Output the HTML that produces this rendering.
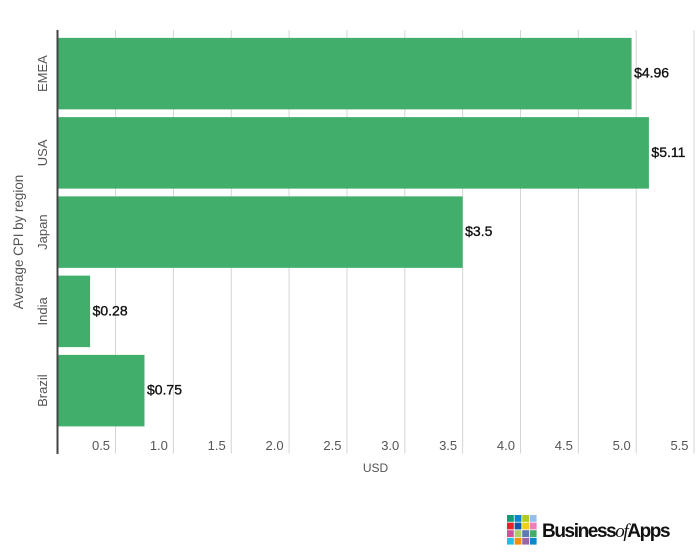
<!DOCTYPE html>
<html>
<head>
<meta charset="utf-8">
<style>
html,body{margin:0;padding:0;background:#fff;width:700px;height:560px;overflow:hidden}
svg{display:block}
text{font-family:"Liberation Sans",sans-serif}
</style>
</head>
<body>
<svg id="chart" width="700" height="560" viewBox="0 0 700 560" xmlns="http://www.w3.org/2000/svg">
  <g id="grid"></g>
  <g id="bars"></g>
  <rect x="56.5" y="30" width="2" height="424" fill="#444"></rect>
  <g id="labels"></g>
  <text x="375.5" y="472" font-size="12" fill="#555" text-anchor="middle">USD</text>
  <text transform="translate(23,242) rotate(-90)" font-size="13.4" fill="#555" text-anchor="middle">Average CPI by region</text>
  <g id="logo"></g>
  <text x="542" y="537" font-size="19" font-weight="bold" fill="#111" letter-spacing="-1.4">Business<tspan font-weight="normal" font-style="italic" font-family="Liberation Serif">of</tspan>Apps</text>
</svg>
<script>
var categories = ['EMEA', 'USA', 'Japan', 'India', 'Brazil'];
var seriesValues = [4.96, 5.11, 3.5, 0.28, 0.75];
var valueLabels = ['$4.96', '$5.11', '$3.5', '$0.28', '$0.75'];
var xTicks = [0.5, 1.0, 1.5, 2.0, 2.5, 3.0, 3.5, 4.0, 4.5, 5.0, 5.5];

var NS = 'http://www.w3.org/2000/svg';
function xScale(v) { return 57.7 + v * 115.7; }
var bandTop = 34;
var bandStep = 79.25;
var barHeight = 71.5;
function bandY(i) { return bandTop + i * bandStep + (bandStep - barHeight) / 2; }

function make(tag, attrs, text) {
  var el = document.createElementNS(NS, tag);
  for (var k in attrs) el.setAttribute(k, attrs[k]);
  if (text !== undefined) el.textContent = text;
  return el;
}

var gridG = document.getElementById('grid');
var barsG = document.getElementById('bars');
var labelsG = document.getElementById('labels');

xTicks.forEach(function (t) {
  var x = xScale(t);
  var line = make('line', {x1: x, x2: x, y1: 30, y2: 453.5, stroke: '#d4d4d4', 'stroke-width': 1});
  
  
  gridG.appendChild(line);
  var label = make('text', {x: x - 5.5, y: 450, 'font-size': 13, fill: '#555', 'text-anchor': 'end'}, t.toFixed(1));
  
  
  labelsG.appendChild(label);
});

categories.forEach(function (c, i) {
  var y = bandY(i);
  var x1 = xScale(seriesValues[i]);
  var bar = make('rect', {x: 57.5, y: y, width: x1 - 57.5, height: barHeight, fill: '#42ae6c'});
  
  
  barsG.appendChild(bar);

  var val = make('text', {x: x1 + 2.5, y: y + barHeight / 2 + 4, 'font-size': 14, fill: '#111', stroke: '#111', 'stroke-width': 0.35}, valueLabels[i]);
  
  
  labelsG.appendChild(val);

  var cy = y + barHeight / 2;
  var cat = make('text', {transform: 'translate(47,' + cy + ') rotate(-90)', 'font-size': 13, fill: '#555', 'text-anchor': 'middle'}, c);
  
  
  labelsG.appendChild(cat);
});

var logoColors = [
  '#0f9d75', '#0c83cf', '#b2cc1d', '#93c0ea',
  '#e8202a', '#0a5aa8', '#f0cf1c', '#f17fb2',
  '#d24f9f', '#a9cf6b', '#5b79b5', '#42ae6c',
  '#21bdf0', '#f78d0d', '#9a66a8', '#0a87cf'
];
var logoG = document.getElementById('logo');
logoColors.forEach(function (col, i) {
  var sq = make('rect', {x: 507 + (i % 4) * 7.6, y: 515 + Math.floor(i / 4) * 7.6, width: 6.8, height: 6.8, fill: col});
  
  
  logoG.appendChild(sq);
});
</script>
</body>
</html>
